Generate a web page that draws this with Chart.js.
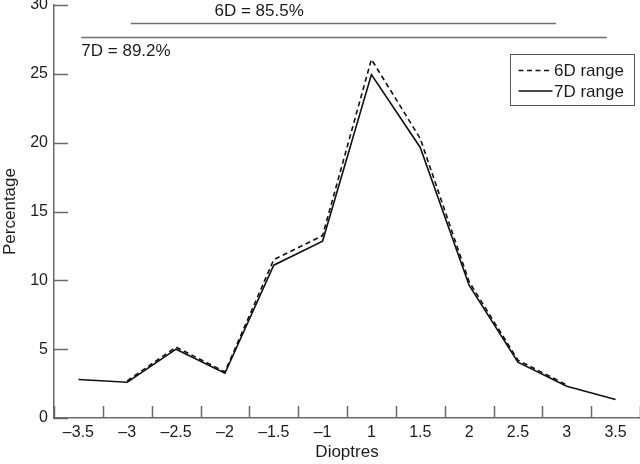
<!DOCTYPE html>
<html><head><meta charset="utf-8">
<script src="https://cdn.jsdelivr.net/npm/chart.js@4.4.0/dist/chart.umd.min.js"></script>
<style>html,body{margin:0;padding:0;background:#fff}#wrap{width:640px;height:464px;position:relative}</style>
</head><body><div id="wrap"><canvas id="c" width="640" height="464"></canvas></div>
<script>
// ---- data ----
const categories = ['\u20133.5','\u20133','\u20132.5','\u20132','\u20131.5','\u20131','1','1.5','2','2.5','3','3.5'];
const range6D = [null, 2.7, 5.15, 3.35, 11.5, 13.25, 26.05, 20.3, 9.9, 4.2, 2.4, null];
const range7D = [2.8, 2.6, 5.0, 3.25, 11.1, 12.85, 24.95, 19.65, 9.65, 4.05, 2.3, 1.35];
const seriesLabels = ['6D range', '7D range'];
const yTicks = [0, 5, 10, 15, 20, 25, 30];
const annotationTexts = ['6D = 85.5%', '7D = 89.2%'];
const annotationLevels = [28.7, 27.7];          // y value of each bracket line
const annotationFrom = [1.07, 0.06];            // category-index span of each line
const annotationTo = [9.78, 10.82];

// ---- styling ----
const FONT = '"Liberation Sans", Arial, Helvetica, sans-serif';
const AXIS = '#6a6a6a';
const TEXT = '#1c1c1c';

const decor = {
  id: 'decor',
  afterDraw(chart) {
    const ctx = chart.ctx, xs = chart.scales.x, ys = chart.scales.y, ca = chart.chartArea;
    ctx.save();
    // inward ticks
    ctx.strokeStyle = AXIS; ctx.lineWidth = 1.5;
    ctx.beginPath();
    for (let i = 0; i <= categories.length; i++) {
      const px = Math.round(xs.getPixelForValue(i - 0.5)) + 0.5;
      ctx.moveTo(px, ca.bottom); ctx.lineTo(px, ca.bottom - 12);
    }
    yTicks.forEach(v => {
      const py = Math.round(ys.getPixelForValue(v)) + 0.5;
      ctx.moveTo(ca.left, py); ctx.lineTo(ca.left + 14, py);
    });
    ctx.stroke();
    // annotation brackets
    ctx.strokeStyle = '#707070'; ctx.lineWidth = 1.5;
    ctx.beginPath();
    annotationLevels.forEach((lv, k) => {
      const py = Math.round(ys.getPixelForValue(lv)) + 0.5;
      ctx.moveTo(xs.getPixelForValue(annotationFrom[k]), py);
      ctx.lineTo(xs.getPixelForValue(annotationTo[k]), py);
    });
    ctx.stroke();
    ctx.fillStyle = TEXT; ctx.font = '17px ' + FONT; ctx.textBaseline = 'middle';
    // 6D label centred above its line, 7D label left-aligned below its line
    ctx.textAlign = 'center';
    ctx.fillText(annotationTexts[0], xs.getPixelForValue(3.70), ys.getPixelForValue(29.57));
    ctx.textAlign = 'left';
    ctx.fillText(annotationTexts[1], xs.getPixelForValue(annotationFrom[1]), ys.getPixelForValue(26.66));
    // legend box
    const bx = ca.right - 129.5, by = ca.top + 49.5, bw = 124, bh = 51;
    ctx.strokeStyle = '#555'; ctx.lineWidth = 1;
    ctx.strokeRect(bx, by, bw, bh);
    chart.data.datasets.forEach((ds, k) => {
      const ly = by + 16 + k * 20.5;
      ctx.strokeStyle = ds.borderColor; ctx.lineWidth = ds.borderWidth;
      ctx.setLineDash(ds.borderDash || []);
      ctx.beginPath(); ctx.moveTo(bx + 8, ly); ctx.lineTo(bx + 42, ly); ctx.stroke();
      ctx.setLineDash([]);
      ctx.fillStyle = TEXT; ctx.textAlign = 'left';
      ctx.fillText(ds.label, bx + 43.5, ly + 1);
    });
    ctx.restore();
  }
};

new Chart(document.getElementById('c'), {
  type: 'line',
  data: {
    labels: categories,
    datasets: [
      { label: seriesLabels[0], data: range6D, borderColor: '#111', borderWidth: 1.6, borderDash: [5, 3.5],
        pointRadius: 0, tension: 0, fill: false, spanGaps: false },
      { label: seriesLabels[1], data: range7D, borderColor: '#111', borderWidth: 1.6,
        pointRadius: 0, tension: 0, fill: false }
    ]
  },
  options: {
    responsive: false, animation: false, devicePixelRatio: 1,
    layout: { padding: { top: 5, right: 0, left: 0, bottom: 0 } },
    plugins: { legend: { display: false }, tooltip: { enabled: false } },
    scales: {
      x: {
        type: 'category', offset: true,
        grid: { offset: true, drawOnChartArea: false, drawTicks: false },
        border: { display: true, color: AXIS, width: 1.5 },
        ticks: { padding: 5, color: TEXT, font: { family: FONT, size: 16 }, maxRotation: 0, autoSkip: false },
        title: { display: true, text: 'Dioptres', color: TEXT, font: { family: FONT, size: 17 }, padding: { top: 0, bottom: 1 } },
        afterFit(s) { s.height = 46; s.paddingLeft = 0; s.paddingRight = 0; }
      },
      y: {
        min: 0, max: 30,
        grid: { drawOnChartArea: false, drawTicks: false },
        border: { display: true, color: AXIS, width: 1.5 },
        ticks: { stepSize: 5, padding: 6, color: TEXT, font: { family: FONT, size: 16 } },
        title: { display: true, text: 'Percentage', color: TEXT, font: { family: FONT, size: 17 }, padding: { top: 0, bottom: 0 } },
        afterFit(s) { s.width = 54; s.paddingTop = 0; s.paddingBottom = 0; }
      }
    }
  },
  plugins: [decor]
});
</script>
</body></html>
